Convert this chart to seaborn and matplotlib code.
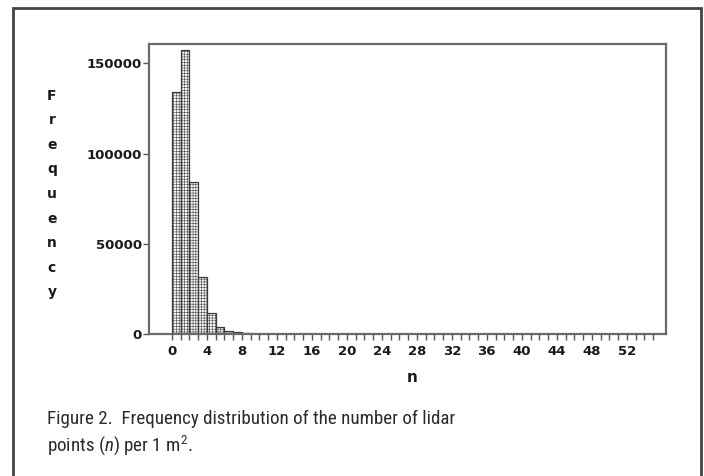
import numpy as np
import pandas as pd
import matplotlib
matplotlib.use("Agg")
import matplotlib.pyplot as plt
import seaborn as sns
from matplotlib.patches import Rectangle
from matplotlib.ticker import FixedLocator
from matplotlib import font_manager

# ---- data ----
n_values = [0, 1, 2, 3, 4, 5, 6, 7, 8, 9, 10, 11, 12, 13, 14]
frequencies = [134000, 157400, 84300, 31900, 11600, 4200, 2000, 1100, 550, 250, 120, 60, 30, 15, 8]
x_tick_values = list(range(0, 53, 4))
y_tick_values = [0, 50000, 100000, 150000]
y_label_text = "Frequency"
x_label_text = "n"
caption_line1 = "Figure 2.  Frequency distribution of the number of lidar"
caption_line2 = "points ($\\mathit{n}$) per 1 m$^{2}$."

sns.set_style("white")
plt.rcParams["font.family"] = ["DejaVu Sans"]
plt.rcParams["hatch.linewidth"] = 0.35

installed = {f.name for f in font_manager.fontManager.ttflist}
cap_font = "Liberation Sans"
cap_size = 12.3
for cand, size in [("Liberation Sans Narrow", 14), ("Roboto Condensed", 13.7), ("Roboto", 13)]:
    if cand in installed:
        cap_font, cap_size = cand, size
        break
plt.rcParams["mathtext.fontset"] = "custom"
plt.rcParams["mathtext.rm"] = cap_font
plt.rcParams["mathtext.it"] = cap_font + ":italic"

fig = plt.figure(figsize=(7.04, 4.76), dpi=100)
L, R, T, B = 149, 665.7, 44, 334.3
ax = fig.add_axes([L / 704, 1 - B / 476, (R - L) / 704, (B - T) / 476])

df = pd.DataFrame({"n": n_values, "freq": frequencies})
sns.histplot(data=df, x="n", weights="freq", bins=56, binrange=(0, 56), ax=ax,
             color="#d9d9d9", alpha=1.0, edgecolor="#3a3a3a", linewidth=0.9)
for p in ax.patches:
    p.set_hatch("++++++")
    p.set_facecolor("#f4f4f4")
    p.set_edgecolor("#3a3a3a")

ax.set_xlim(-2.6, 56.45)
ax.set_ylim(0, 160700)
ax.xaxis.set_major_locator(FixedLocator(x_tick_values))
ax.xaxis.set_minor_locator(FixedLocator(list(range(0, 56))))
ax.set_yticks(y_tick_values)
ax.set_xticklabels([str(v) for v in x_tick_values])
ax.set_yticklabels([str(v) for v in y_tick_values])

for lab in ax.get_xticklabels() + ax.get_yticklabels():
    lab.set_fontsize(9.5)
    lab.set_fontweight("bold")
    lab.set_color("#1a1a1a")

ax.tick_params(axis="x", which="both", direction="out", length=4, width=1,
               color="#555555", bottom=True, pad=4)
ax.tick_params(axis="y", which="major", direction="out", length=4, width=1,
               color="#555555", left=True, pad=1)

for s in ax.spines.values():
    s.set_color("#6a6a6a")
    s.set_linewidth(1.6)

ax.set_xlabel(x_label_text, fontsize=11, fontweight="bold", color="#1a1a1a")
ax.xaxis.set_label_coords((411.7 - L) / (R - L), -(378 - B) / (B - T))
ax.xaxis.label.set_va("center")

ax.set_ylabel("\n".join(y_label_text), rotation=0, fontsize=10, fontweight="bold",
              color="#1a1a1a", linespacing=1.96, ha="center", va="center")
ax.yaxis.set_label_coords((52 - L) / (R - L), (B - 194) / (B - T))

fig.text(47 / 704, 1 - 410 / 476, caption_line1 + "\n" + caption_line2,
         ha="left", va="top", fontsize=cap_size, family=cap_font, color="#2a2a2a",
         linespacing=1.3)

fig.add_artist(Rectangle((13 / 704, -0.05), (700.5 - 13) / 704, 1.05 - 8 / 476,
                         transform=fig.transFigure, fill=False,
                         edgecolor="#444444", linewidth=2))

fig.savefig("out.png", dpi=100)
